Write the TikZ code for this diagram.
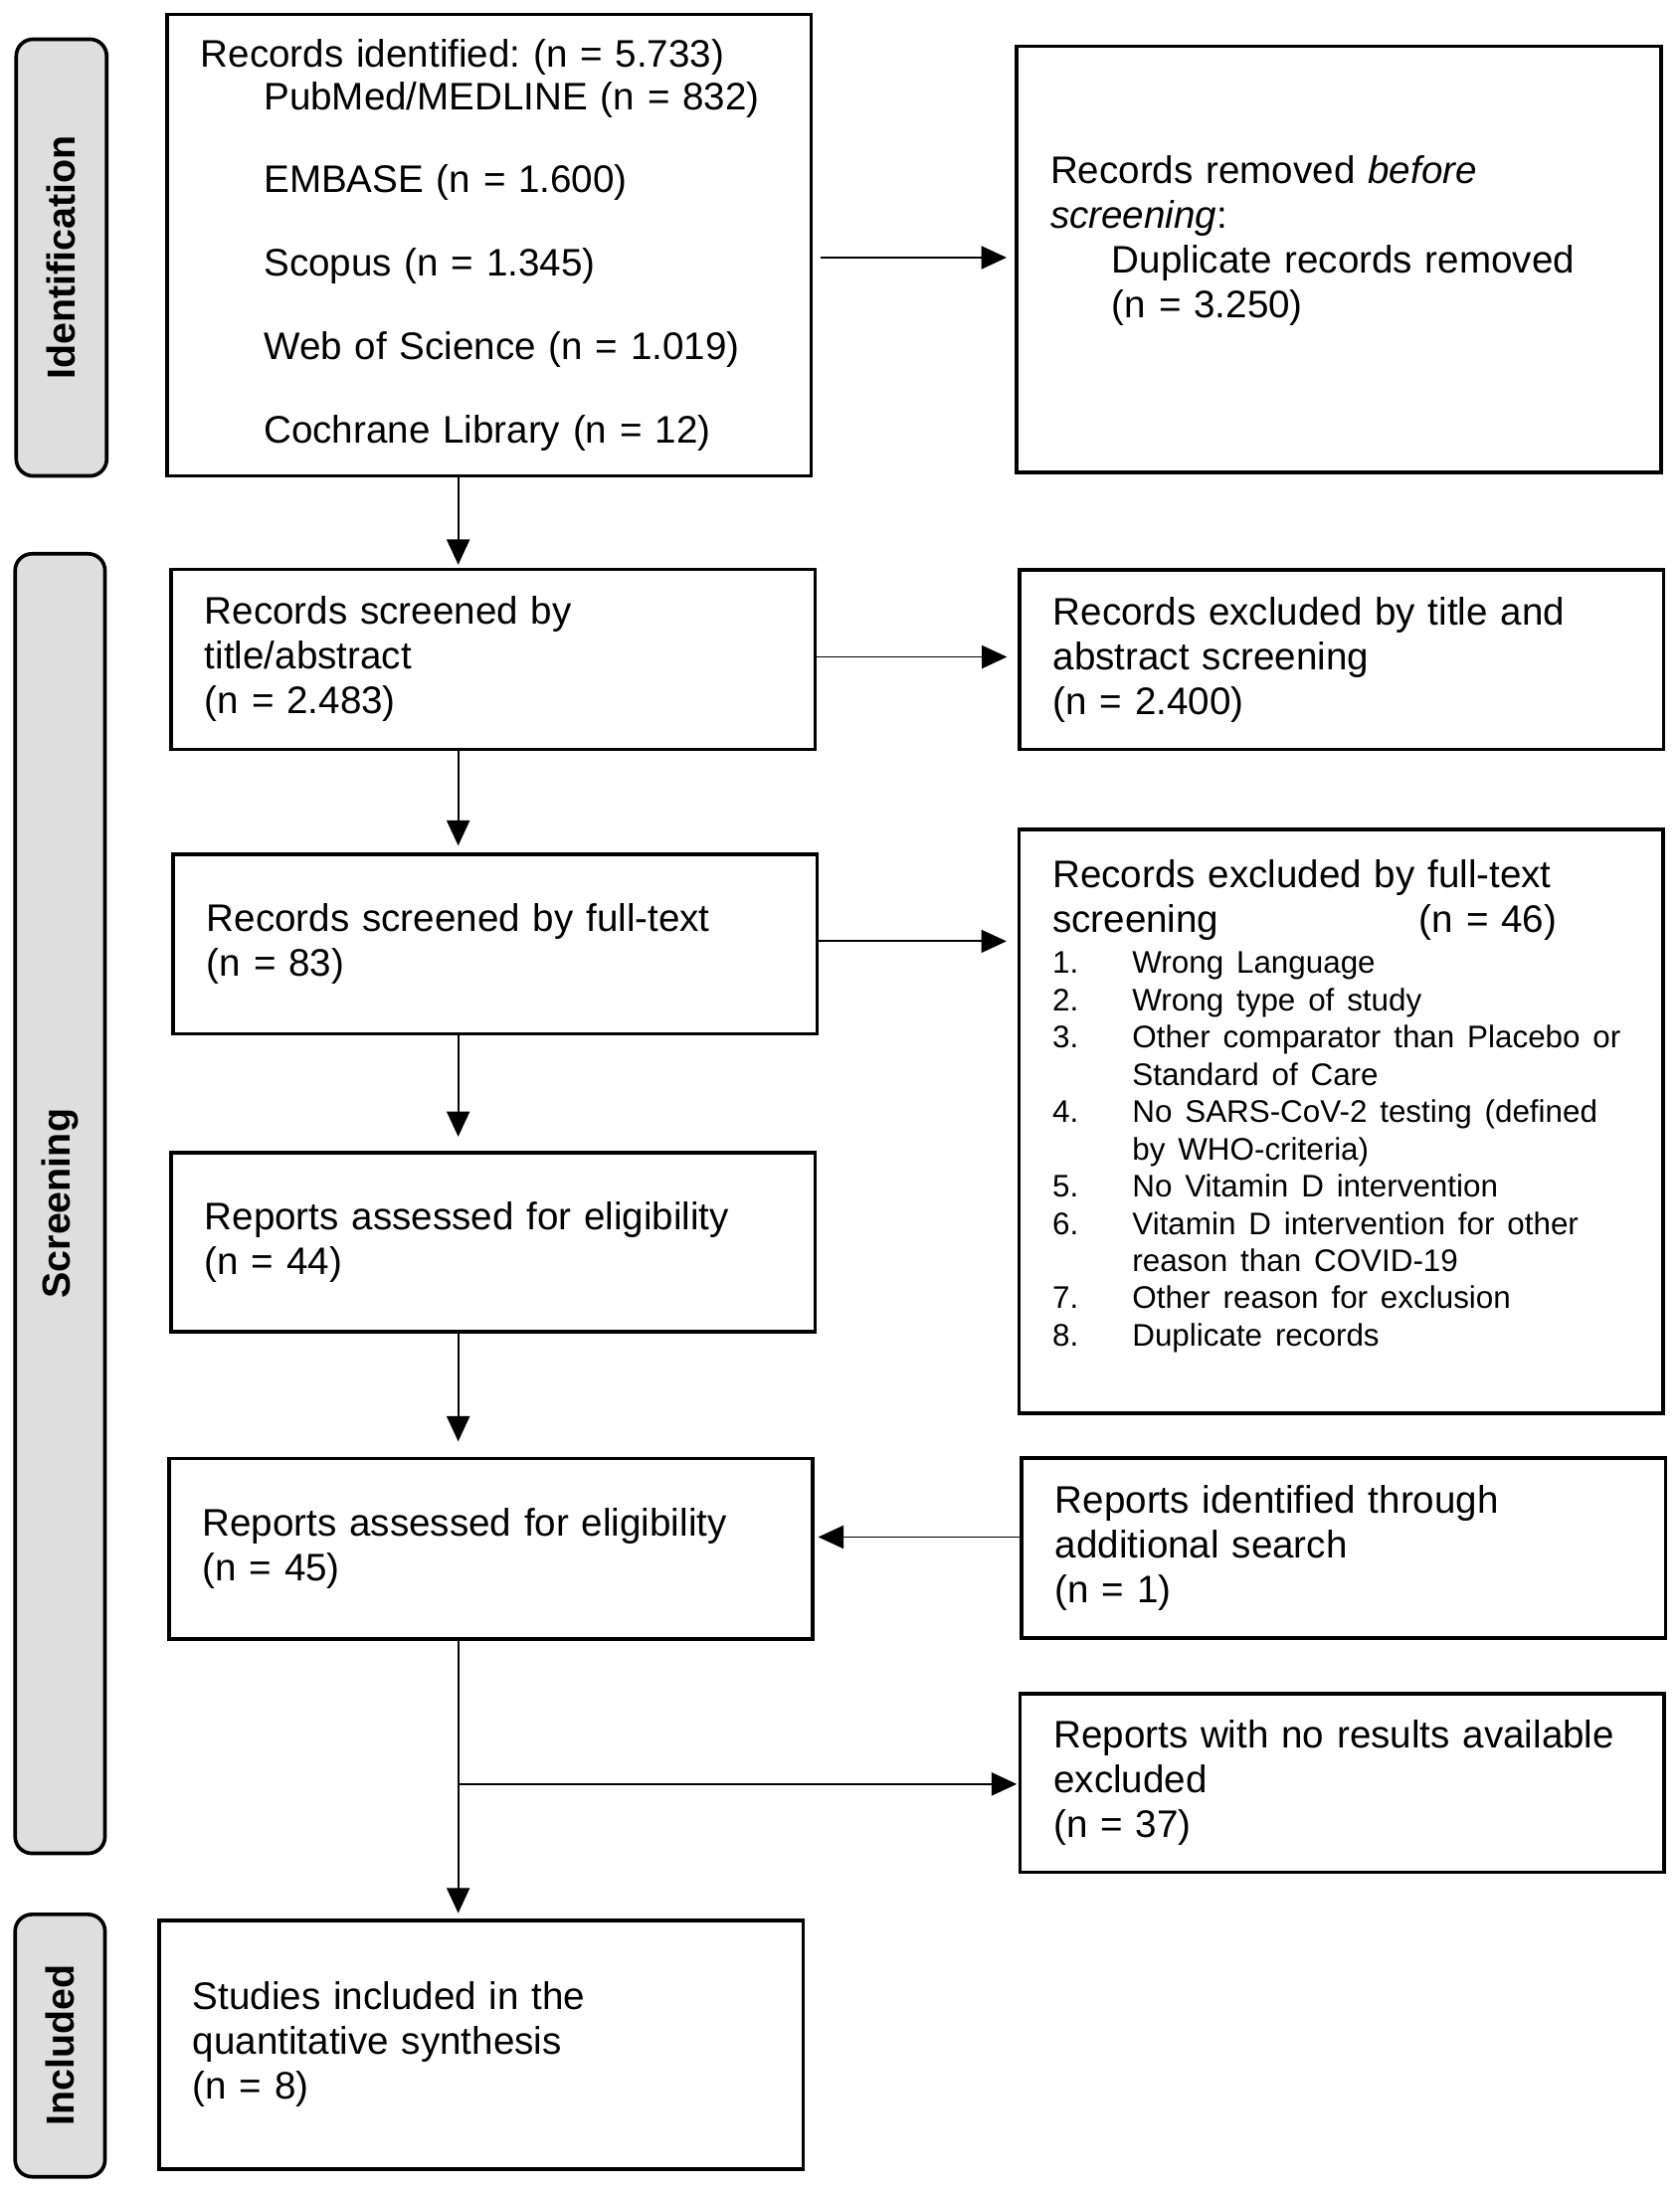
\documentclass[tikz,border=0pt]{standalone}
\usepackage{fontspec}
\setmainfont{Liberation Sans}
\usetikzlibrary{arrows.meta}
\frenchspacing
\begin{document}
\begin{tikzpicture}[x=0.5pt,y=-0.5pt,
  box/.style={draw=black, line width=1.3pt, rectangle, minimum width=230pt,
    text width=206pt, inner xsep=12pt, inner ysep=0pt, align=left,
    font=\fontsize{13.7}{16}\selectfont\frenchspacing},
  lab/.style={draw=black, line width=1.3pt, rounded corners=6pt, fill=black!13,
    rotate=90, inner sep=0pt, font=\fontsize{14}{16}\selectfont\bfseries},
  arr/.style={line width=0.65pt, -{Triangle[length=9pt,width=8.2pt]}}
]
\useasboundingbox (0,0) rectangle (1200,1565.2);

% phase labels
\node[lab, minimum width=156pt, minimum height=32.3pt] (lid) at (43.9,184) {Identification};
\node[lab, minimum width=464.2pt, minimum height=32.1pt] (lsc) at (42.9,859.8) {Screening};
\node[lab, minimum width=93.7pt, minimum height=32.1pt] (lin) at (42.9,1461.3) {Included};

% boxes
\node[box, minimum height=164.9pt] (box1) at (349.5,175.1) {Records identified: (n = 5.733)\\[-1pt]
\hspace*{22.5pt}PubMed/MEDLINE (n = 832)\\[13.75pt]
\hspace*{22.5pt}EMBASE (n = 1.600)\\[13.75pt]
\hspace*{22.5pt}Scopus (n = 1.345)\\[13.75pt]
\hspace*{22.5pt}Web of Science (n = 1.019)\\[13.75pt]
\hspace*{22.5pt}Cochrane Library (n = 12)};

\node[box, minimum height=152.25pt] (rem) at (956.3,185.3) {Records removed \textit{before}\\
\textit{screening}:\\
\hspace*{22pt}Duplicate records removed\\
\hspace*{22pt}(n = 3.250)\\
\mbox{}};

\node[box, minimum height=64.3pt] (box2) at (352.3,471) {Records screened by\\ title/abstract\\ (n = 2.483)};
\node[box, minimum height=64.2pt] (ex1) at (958.2,471.2) {Records excluded by title and\\ abstract screening\\ (n = 2.400)};

\node[box, minimum height=64.1pt] (box3) at (353.7,674.5) {Records screened by full-text\\ (n = 83)};
\node[box, minimum height=208.6pt] (ex2) at (957.8,801.1) {Records excluded by full-text\\
\makebox[131pt][l]{screening}(n = 46)\par\vspace{1.5pt}
{\fontsize{11.15}{13.3}\selectfont
\mbox{\makebox[28.5pt][l]{1.}Wrong Language}\\
\mbox{\makebox[28.5pt][l]{2.}Wrong type of study}\\
\mbox{\makebox[28.5pt][l]{3.}Other comparator than Placebo or}\\
\mbox{\hspace*{28.5pt}Standard of Care}\\
\mbox{\makebox[28.5pt][l]{4.}No SARS-CoV-2 testing (defined}\\
\mbox{\hspace*{28.5pt}by WHO-criteria)}\\
\mbox{\makebox[28.5pt][l]{5.}No Vitamin D intervention}\\
\mbox{\makebox[28.5pt][l]{6.}Vitamin D intervention for other}\\
\mbox{\hspace*{28.5pt}reason than COVID-19}\\
\mbox{\makebox[28.5pt][l]{7.}Other reason for exclusion}\\
\mbox{\makebox[28.5pt][l]{8.}Duplicate records}\\
\mbox{}\par}};

\node[box, minimum height=64.1pt] (box4) at (352.2,887.4) {Reports assessed for eligibility\\ (n = 44)};
\node[box, minimum height=64.5pt] (box5) at (350.6,1106.5) {Reports assessed for eligibility\\ (n = 45)};
\node[box, minimum height=64.35pt] (add) at (959.7,1105.7) {Reports identified through\\ additional search\\ (n = 1)};
\node[box, minimum height=63.7pt] (nores) at (958.6,1273.7) {Reports with no results available\\ excluded\\ (n = 37)};
\node[box, minimum height=88.7pt] (final) at (343.7,1460.7) {Studies included in the\\ quantitative synthesis\\ (n = 8)};

% helper coordinates
\coordinate (xa) at (327.3,0);
\coordinate (ya) at (0,184);
\coordinate (yb) at (0,469.3);
\coordinate (yc) at (0,672.4);
\coordinate (yd) at (0,1098);
\coordinate (ye) at (0,1274.5);

% connectors
\draw[arr, shorten >=1pt] (box1.south -| xa) -- (box2.north -| xa);
\draw[arr, shorten <=2.5pt, shorten >=3pt] (box1.east |- ya) -- (rem.west |- ya);
\draw[arr, shorten >=3.8pt] (box2.east |- yb) -- (ex1.west |- yb);
\draw[arr, shorten >=2.5pt] (box2.south -| xa) -- (box3.north -| xa);
\draw[arr, shorten >=3.8pt] (box3.east |- yc) -- (ex2.west |- yc);
\draw[arr, shorten >=5pt] (box3.south -| xa) -- (box4.north -| xa);
\draw[arr, shorten >=5.5pt] (box4.south -| xa) -- (box5.north -| xa);
\draw[arr, shorten >=1.3pt] (add.west |- yd) -- (box5.east |- yd);
\draw[arr, shorten >=2pt] (box5.south -| xa) -- (final.north -| xa);
\draw[arr, shorten >=0.5pt] (xa |- ye) -- (nores.west |- ye);
\end{tikzpicture}
\end{document}
